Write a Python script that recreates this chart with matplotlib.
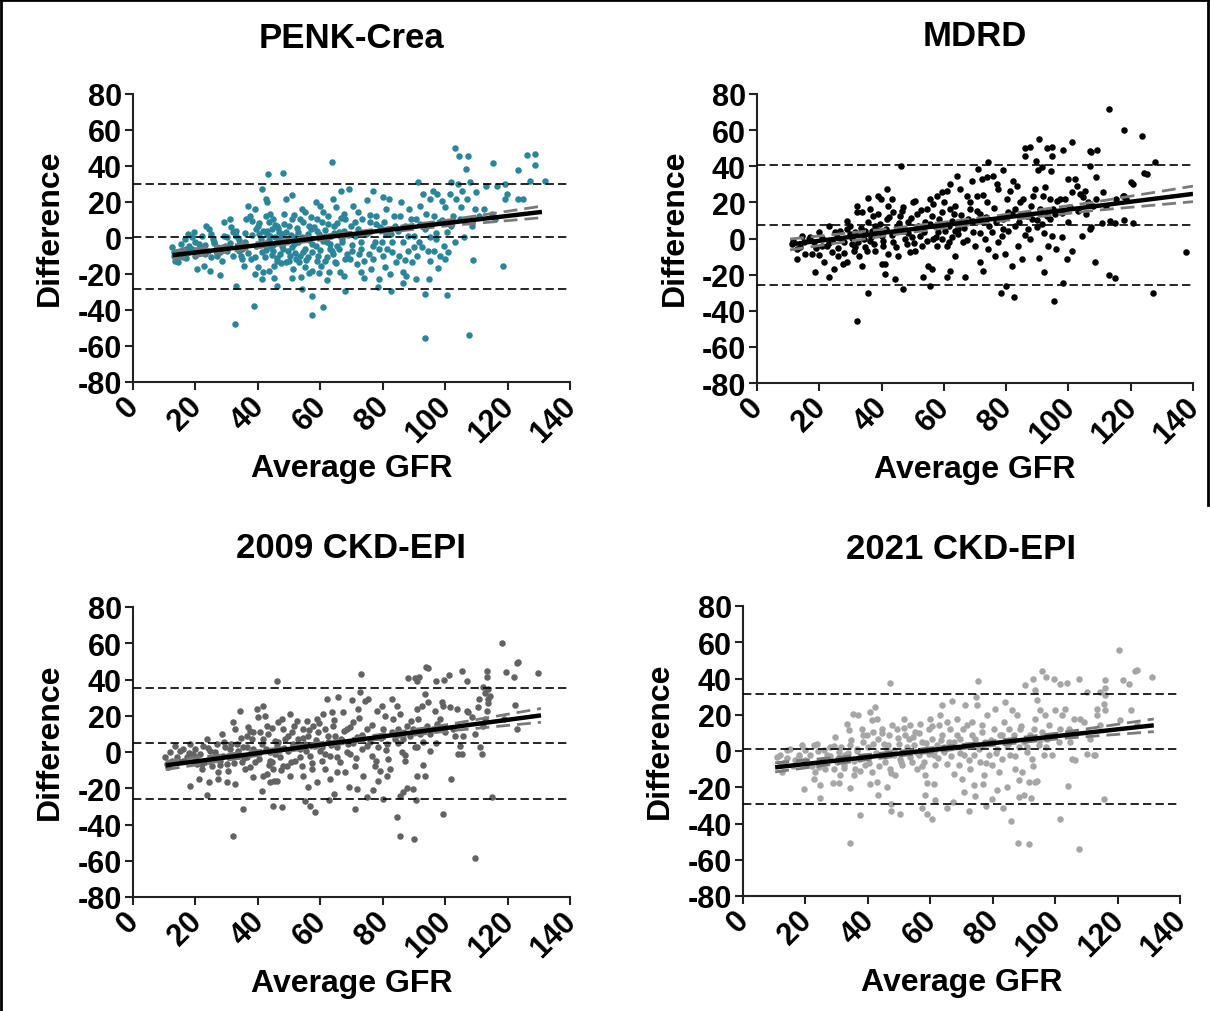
import matplotlib
matplotlib.use('Agg')
import matplotlib.pyplot as plt
from matplotlib.lines import Line2D
from matplotlib.transforms import ScaledTranslation

plt.rcParams['font.family'] = ['Liberation Sans', 'DejaVu Sans']
plt.rcParams['font.weight'] = 'bold'
plt.rcParams['axes.unicode_minus'] = False

# ---- data (Average GFR, Difference) ----
titles = ['PENK-Crea', 'MDRD', '2009 CKD-EPI', '2021 CKD-EPI']
colors = ['#2a869c', '#000000', '#636363', '#a6a6a6']

penk_pts = [
    (12.5, -5.1), (13, -9.8), (13.5, -12.5), (14, -7.9), (14.5, -13.5), (15, -7.0), (15.5, -3.3), (16, -10.5),
    (16.5, -0.5), (17, -6.0), (17.5, 2.2), (18, -4.3), (19, 0.4), (19.4, 3.2), (20, -2.4), (20.5, -17.2),
    (21, -7.1), (21.5, -5.2), (22, 1.3), (22.6, -15.3), (23, -8.9), (23.5, 6.8), (24.3, 5.0), (24.8, -18.6),
    (25, 2.2), (25.5, -0.6), (26, -2.8), (26.5, -6.1), (27, -9.8), (28, -20.5), (28.5, -12.6), (29, 8.7),
    (29.5, -4.3), (30, 0.4), (31, 10.5), (31.5, 5.9), (32, 3.1), (32.6, -47.7), (33, 1.3), (33.1, -26.4),
    (33.5, -4.3), (34, -7.1), (34.5, -9.8), (35, -11.7), (35.5, -15.4), (36, -2.4), (36.3, 10.5),
    (37, 17.6), (38.7, -37.9), (39, 16.1), (37.5, 12.4), (38, 9.6), (40, 6.8), (40.5, 2.2), (41, -0.6),
    (39.5, -4.3), (41.4, -8.0), (37.8, -11.7), (40.2, -16.3), (41.4, -22.8), (41.4, 27.2), (39, -20.0),
    (41.8, -19.1), (43.3, 35.6), (42.5, 21.7), (43, 19.8), (44, 13.3), (45, 10.5), (43.5, 8.7), (46, 6.8),
    (44.5, 5.0), (42.8, 2.2), (45.5, 0.4), (46.5, -2.4), (43.8, -5.2), (44.8, -7.1), (47, -8.9),
    (42.3, -10.8), (46.2, -12.6), (45.1, -15.4), (43.6, -18.2), (45.1, -22.2), (46.2, -26.4), (44, -3.3),
    (46.8, 3.1), (42.6, 12.4), (48, 35.9), (50.8, 23.9), (49, 21.7), (48.5, 13.3), (51, 10.5), (50, 6.8),
    (47.8, 2.2), (52, 0.4), (49.5, -1.5), (51.5, -3.3), (48.2, -6.1), (50.3, -9.8), (52.2, -11.7),
    (49, -13.5), (51.2, -17.2), (50.8, -22.1), (47.6, -4.3), (54, 16.1), (55, 14.2), (53.5, 10.5),
    (56.5, 6.8), (57, 5.0), (53, 3.1), (55.5, 0.4), (57.5, -3.3), (54.5, -8.0), (56, -10.8), (53.3, -13.5),
    (55, -16.3), (57.2, -18.2), (56.5, -19.5), (53.7, -21.8), (54.3, -28.6), (57.5, -32), (57.5, -42.9),
    (58.5, 19.8), (60, 17.9), (61, 14.2), (59, 10.5), (62.5, 7.8), (58.8, 4.1), (60.5, 0.4), (62, -2.4),
    (63, -6.1), (59.3, -9.8), (61.5, -12.6), (60.2, -15.4), (62.8, -19.1), (59.6, -19.4), (61, -38.6),
    (63.9, 42.0), (62, -23.6), (66.5, 26.3), (64, 21.7), (65, 17.0), (67.5, 13.3), (68, 10.5), (64.5, 6.8),
    (66, 3.1), (67, -0.6), (65.5, -4.3), (63.8, -7.1), (68.5, -8.9), (64.8, -13.5), (66.3, -19.1),
    (67.5, -20.9), (67.9, -29.5), (69.2, 27.2), (70.5, 17.6), (72, 14.2), (73.5, 10.5), (69.8, 6.8),
    (71, 1.3), (73, -2.4), (70, -7.1), (72.5, -8.9), (69.5, -11.7), (71.8, -14.5), (73.2, -19.1),
    (74.1, -22.0), (76.8, 26.3), (75, 21.1), (78, 12.4), (76, 8.7), (79, 5.9), (74.8, 2.2), (77.5, -2.4),
    (78.8, -6.1), (75.5, -8.9), (77, -11.7), (76.2, -17.2), (78.9, -22.7), (78.4, -27.3), (80, 22.6),
    (82, 21.7), (81, 16.1), (83.5, 12.4), (80.5, 8.7), (84, 6.8), (82.5, 2.2), (79.8, -2.4), (81.5, -6.1),
    (83, -8.0), (84.3, -13.5), (80.8, -16.3), (82.2, -20.0), (82.7, -29.7), (86, 19.8), (88.5, 16.1),
    (85.5, 12.4), (89, 10.5), (87, 6.8), (90, 1.3), (86.5, -2.4), (88, -7.1), (85.2, -9.8), (89.5, -13.5),
    (86.4, -19.1), (87.5, -20.9), (86.4, -25.0), (90.7, -22.7), (91.3, 31.3), (93, 24.4), (95, 21.7),
    (92, 17.9), (94, 13.3), (90.8, 10.5), (93.5, 5.0), (95.2, 0.4), (91.5, -2.4), (92.5, -5.2),
    (94.5, -7.1), (91, -9.8), (93.4, -31), (93.7, -55.4), (94.8, -22.8), (96, 26.3), (97.5, 24.4),
    (99, 20.7), (100, 17.0), (96.5, 12.4), (98, 8.7), (100.5, 3.1), (97, -0.6), (99.5, -4.3), (96.3, -7.1),
    (98.5, -9.8), (100, -11.7), (97.8, -16.9), (100.7, -31.4), (103, 49.8), (104.4, 45.7), (102, 31.3),
    (104, 29.8), (105.5, 26.3), (101.5, 24.4), (103.5, 21.7), (105, 17.0), (102.5, 12.4), (104.8, 10.5),
    (101.8, 6.8), (106, 0.4), (103, -2.4), (107.4, 45.7), (106.8, 38.4), (108, 31.0), (110, 25.3),
    (107, 21.7), (109.5, 16.1), (111, 12.4), (108.5, 6.8), (109, -12.2), (107.6, -53.8), (115.2, 41.9),
    (113, 29.1), (112.5, 16.1), (115, 13.3), (116, 10.5), (116.7, 29.1), (119.2, 29.8), (119.7, 24.5),
    (119.2, 21.7), (123.5, 21.7), (125.1, 21.7), (118.6, -15.3), (123.2, 37.8), (126.1, 46.1),
    (128.8, 46.7), (128.8, 40.8), (127.2, 31.5), (132, 31.9),
    # dense core
    (40.5, 8.5), (41.5, 4.0), (42, -3.5), (42.5, -6.5), (43, 3.8), (43.5, -1.0), (44, 0.9), (44.5, -9.5),
    (45, -4.0), (45.5, 7.5), (46, -11), (46.5, 5.5), (47, 0.0), (47.5, -14), (48, -2.5), (48.5, 8),
    (49, 3.5), (49.5, -7), (50, -12.5), (50.5, 1.5), (51, -5), (51.5, 13), (52, -8.5), (52.5, 5.5),
    (53, -2), (53.5, -10), (54, 0.5), (54.5, 9), (55, -6), (55.5, -12), (56, 2.5), (56.5, -1), (57, 11.5),
    (57.5, -8), (58, 6), (58.5, -4.5), (59, -13), (59.5, 2), (60, -6.5), (60.5, 9), (61, -1.5), (61.5, 4.5),
    (62, -10.5), (62.5, 12), (63, -3.5), (63.5, 1), (64, -9), (64.5, 3), (65, -14), (65.5, 8.5), (66, -6),
    (66.5, 11), (67, -2), (67.5, 4), (68, -11.5), (69, 1.5), (70, -3.8), (71, 9), (72, 5), (73, -6),
    (74, -13), (75, 3), (76, 13), (77, -4.5), (78, 8), (80, -10), (81, 2), (83, -2), (85, 4), (87, -12),
    (88, 1), (90, -5), (92, 8), (95, -13), (97, 3), (99, 10), (101, -8),
    (13, -8), (14, -11), (15, -9.5), (16, -6.5), (17, -11), (18, -8), (19, -6), (20, -10), (21, -3.5),
    (22, -6), (23, -4), (24, -7), (25, -10.5), (26, -2), (27, -5), (28, -8), (29, 1), (30, -7), (31, -2.5),
    (32, -10), (33, 4), (34, -1), (35, -6), (36, 3), (37, -8.5), (38, 1.5), (39, -10.5), (39.5, 5),
]

mdrd_pts = [
    (113.1, 71.7), (117.8, 60.2), (123.7, 56.6), (127.7, 42.2), (125.1, 35.7), (120.2, 31.1), (137.7, -7.6),
    (127.2, -30.3), (95.3, -34.8), (32.1, -45.8), (35.5, -30.3), (82.6, -32.6), (78.2, -30.3), (80, -26.5),
    (98.3, -24.8), (113, -20), (115, -22), (108.5, -12.8), (99.4, -11.3), (101.3, -7.1), (92.1, -18.4),
    (90.6, -10.6), (86.0, 49.9), (87.6, 50.5), (90.5, 55.1), (93, 49.9), (94.6, 50.5), (94.6, 45.5),
    (98.3, 49.2), (101.3, 53.2), (106.9, 48.6), (109.3, 49.2), (107.4, 48.1), (86.0, 45.9), (89.6, 43.1),
    (90.3, 38.1), (91.6, 39.4), (94.4, 37.6), (74.1, 42.2), (46.3, 40.3), (106.9, 40.3), (109, 34.2),
    (124.2, 36.3), (120.6, 30.2), (117.8, 23.7), (110.8, 8.4), (113.3, 9.5), (115.1, 8.4), (117.9, 10.2),
    (120.8, 8.4), (11.2, -3.0), (12.8, -11.3), (14.4, 1.6), (15.5, -8.6), (17.6, -8.6), (18.7, -18.7),
    (16.6, -0.3), (19.8, 3.4), (20.8, -4.0), (11.7, -1.2), (13.9, -4.9), (18.2, -2.1), (21.4, -12.8),
    (23, -21.5), (23, 7.1), (24.0, -7.6), (24.6, -16.9), (25.9, -9.5), (26.7, 4.3), (27.6, -14.1),
    (28.9, -13.2), (28.9, 9.9), (29.9, 2.5), (30.5, -3.0), (31.5, -4.9), (31.2, -6.7), (24.0, -1.2),
    (25.6, 0.7), (27.8, -2.1), (29.9, 7.1), (22.4, -4.0), (32.1, 18.2), (32.1, 14.5), (35.8, 22.2),
    (33.7, 14.9), (34.7, 4.3), (34.7, -4.9), (32.6, -9.5), (33.7, -15.0), (36.3, 16.3), (37.4, 12.7),
    (37.9, 7.1), (39, 23.7), (39.8, 21.9), (40.1, 1.6), (40.6, -4.0), (41.1, -14.1), (40.1, -14.1),
    (41.1, -19.6), (41.7, 27.4), (39, 13.6), (36.3, -1.2), (37.9, -6.7), (42.2, 18.2), (41.7, 10.8),
    (42.2, -8.6), (35.3, -6.7), (36.9, 4.3), (43.3, 21.9), (43.8, 14.5), (43.8, -2.1), (44.4, -22.4),
    (47.0, -28), (45.4, -9.5), (45.9, 12.7), (47, 17.2), (47.6, 4.3), (48.1, -3.0), (49.2, -7.6),
    (50.2, 20.0), (50.8, 20.9), (51.3, 13.6), (51.8, 7.1), (52.4, 1.6), (52.9, -4.0), (53.2, -21.5),
    (46.5, 4.3), (44.9, 7.1), (48.6, 9.0), (49.7, 0.7), (50.8, -6.7), (55.0, -15.0), (55.6, -26.1),
    (56.1, -16.9), (55.6, 21.9), (57.7, 23.7), (59.3, 25.6), (60.9, 26.5), (62, 30.2), (64.1, 34.4),
    (54.5, 16.3), (56.1, 12.7), (57.2, 7.1), (58.2, 3.4), (59.3, -0.3), (60.9, -4.0), (62, 16.3),
    (63.1, 13.6), (57.7, -4.0), (59.9, 20.0), (61.5, 7.1), (62.5, 0.7), (63.6, -9.5), (60.9, -21.5),
    (62, -17.8), (63.6, 4.3), (56.6, -0.3), (54, 9.0), (65.2, 27.4), (66.8, -21.5), (66.3, -2.1),
    (67.3, 23.7), (68.4, 16.3), (69, 32.0), (69.5, 3.4), (70, -4.0), (71.1, 38.5), (71.6, 13.6),
    (72.1, 32.9), (72.7, 9.0), (73.2, -0.3), (73.7, 33.9), (73.7, 20.0), (74.3, -5.8), (71.6, -13.2),
    (72.7, -17.8), (67.9, 10.8), (70.5, 23.7), (64.7, 5.3), (75.9, 34.8), (77, 30.2), (77.5, 27.4),
    (78.6, 1.6), (79.1, 38.1), (79.6, -8.6), (80.2, 21.9), (81.2, 26.5), (81.8, -15.0), (82.3, 32.0),
    (82.8, 16.3), (83.4, 29.3), (83.9, -4.0), (84.4, 20.0), (85, -11.3), (76.9, 9.0), (79.1, 5.3),
    (80.7, 14.5), (75.4, 3.4), (76.4, -9.5), (85.5, 21.9), (82.8, 7.1), (86.6, 12.7), (87.1, 5.3),
    (87.6, -0.3), (88.7, 23.7), (89.2, 27.4), (89.8, 6.2), (90.9, 16.3), (91.9, 23.7), (92.5, 28.3),
    (93, 12.7), (93.5, -4.0), (94.1, 21.9), (94.6, 1.6), (95.1, 16.3), (95.7, 13.6), (88.2, 10.8),
    (91.4, 8.1), (96.2, 21.0), (97.3, 21.9), (97.8, 0.7), (98.9, 21.9), (100, 32.9), (100.5, 17.2),
    (101, 25.6), (102.1, 32.9), (102.6, 29.3), (103.7, 24.6), (104.2, 1.6), (104.7, 22.8), (105.3, 26.5),
    (105.8, 13.6), (106.9, 5.3), (107.1, 6.2), (106.3, 20.0), (108, 18.2), (109, 21.9), (111.2, 25.6),
    (112.2, 18.2), (115.4, 21.9), (117.6, 23.7), (118.6, 21.9),
    # dense core
    (30.5, 0.5), (31.5, 3.5), (32.5, -2), (33.5, 6), (34.5, -0.5), (35.5, 9), (36.5, 1), (37.5, -3),
    (38.5, 4.5), (39.5, 8), (40.5, -1.5), (41.5, 5.5), (42.5, 12), (43.5, 2), (44.5, -4.5), (45.5, 8.5),
    (46.5, 15), (47.5, -0.5), (48.5, 3), (49.5, 11.5), (50.5, -2.5), (51.5, 6.5), (52.5, 16), (53.5, 3.5),
    (54.5, -1.5), (55.5, 8), (56.5, 19), (57.5, 1), (58.5, 11), (59.5, 14.5), (60.5, 4), (61.5, -2),
    (62.5, 9.5), (63.5, 18), (64.5, 2.5), (65.5, 13), (66.5, 6), (67.5, -1), (68.5, 20), (69.5, 9.5),
    (70.5, 15), (71.5, 3), (72.5, 24), (73.5, 12), (74.5, 7), (76, 17), (77.5, -2), (79, 11), (80.5, 4),
    (82, 13.5), (84, 9), (86, 2), (88, 18), (90, 10), (92, 3), (94, 11), (96, -6), (98, 14), (100, 9),
    (103, 15), (13, -6), (15, -2), (17, 1), (19, -5.5), (21, 0.5), (23, -2.5), (25, 3.5), (26, -5),
    (27, 0), (28, -8), (29, 5), (20, -9),
]

ckd09_pts = [
    (118.3, 60.1), (122.9, 48.9), (123.5, 49.5), (119.5, 44), (121.9, 41.2), (129.9, 43.4), (94.4, 46.4),
    (93.8, 46.7), (105.3, 44.5), (113.3, 44.5), (106.9, 39), (99.6, 39.7), (97.1, 39), (101.3, 42.5),
    (88.2, 40.6), (90.4, 40.6), (91.1, 39), (91.7, 41.2), (73.1, 43.0), (46.0, 39), (112.2, 35.7),
    (113.8, 34.8), (113.3, 41.2), (122.4, 25.9), (113.8, 27.0), (110.9, 29.2), (112.8, 32.5),
    (31.9, -46.5), (85.5, -46.5), (89.9, -48.0), (109.6, -58.7), (99.4, -34.2), (84.5, -36), (35.4, -31.4),
    (58.3, -33.3), (71.1, -31.4), (114.9, -24.6), (44.8, -29.6), (47.6, -30.5), (56.7, -29.6),
    (55.1, -26.8), (62.9, -26.3), (64.4, -23.2), (74.9, -25.0), (80.2, -25.9), (85.5, -24.1),
    (86.6, -22.2), (87.7, -20.0), (89.8, -20.4), (90.6, -26.5), (23.6, -23.5), (18.3, -18.9),
    (32.7, -17.8), (30, -16.7), (27.3, -14.9), (24.4, -16.7), (21.3, -15.1), (41.2, -21.3), (43.9, -16.7),
    (45.2, -15.8), (50.3, -13.0), (56.2, -19.5), (69.1, -19.1), (71.7, -20.4), (77, -20.8), (78.6, -16.2),
    (81.5, -13.0), (90.9, -13.0), (93.6, -13.5), (101.9, -14.9), (111.9, -1.1),
    (10.2, -3.0), (10.8, -6.6), (11.9, -0.2), (12.4, -4.8), (13.5, 3.5), (15.1, 0.7), (16.1, 1.6),
    (17.2, -3.0), (18.3, 4.4), (19.3, -1.1), (20.4, -6.6), (19.9, 1.6), (11.3, -8.5), (14.5, -4.8),
    (21.5, -1.1), (22.5, 3.5), (23.6, 7.2), (24.1, -4.8), (24.7, 0.7), (25.2, -7.5), (26.3, -0.2),
    (26.8, 4.4), (27.9, -4.8), (28.4, 9.9), (28.9, -2.0), (29.5, 2.6), (30, -6.6), (30.5, -10.3),
    (31.1, 1.6), (22, -9.4), (27.3, -11.2), (23.1, -5.7), (32.1, 16.4), (32.7, 12.7), (33.2, 4.4),
    (33.7, -2.0), (34.3, 22.8), (34.8, -5.7), (35.3, 2.6), (35.9, -9.4), (36.4, -3.0), (36.9, 13.6),
    (37.5, 11.8), (38, 7.2), (38.5, 1.6), (39.1, -5.7), (39.6, 23.7), (40.2, 19.1), (40.7, 10.9),
    (41.2, 4.4), (41.5, -13.0), (41.8, 25.6), (38.5, -14.0), (36.4, 9.0), (42.3, 20.1), (42.8, 14.5),
    (43.4, 9.9), (43.9, -0.2), (44.4, -5.7), (44.9, -9.4), (45.5, 6.3), (46, 3.5), (46.6, 16.4),
    (47.1, -3.0), (47.6, 18.2), (48.2, 12.7), (48.7, 7.2), (49.2, -7.5), (49.8, 0.7), (50.3, 21.0),
    (50.8, 10.9), (51.4, 4.4), (51.9, -4.8), (52.4, 17.3), (42.8, -12.1), (46, -15.8), (47.9, -7.5),
    (43.9, -4.8), (53, 7.2), (53.5, 1.6), (54.0, -7.5), (54.6, 12.7), (55.1, 4.4), (55.6, 17.3), (56.2, 9.0),
    (56.7, -2.0), (57.2, -9.4), (57.8, 14.5), (58.3, 3.5), (58.8, 18.2), (59.4, 10.9), (59.9, 0.7),
    (60.4, -4.8), (61, 21.0), (61.5, 12.7), (62.1, 29.2), (62.6, 5.3), (63.1, -2.0), (54.6, -13.0),
    (58.8, -16.7), (61.5, -9.4), (63.7, 21.9), (64.2, 14.5), (64.7, 9.0), (65.3, 2.6), (65.8, 30.2),
    (66.3, -5.7), (67.4, 21.9), (67.9, -11.2), (68.5, 12.7), (69, 4.4), (69.5, -1.1), (70.1, 28.9),
    (70.6, 16.4), (71.1, -7.5), (71.7, 8.1), (72.2, 23.7), (72.7, 32.9), (73.3, 1.6), (73.8, -13.0),
    (63.1, -14.9), (65.3, -11.2), (74.3, 28.3), (74.9, 12.7), (75.4, 29.2), (75.9, 5.3), (76.5, -2.0),
    (77.5, -7.5), (78.1, 22.8), (78.6, 2.6), (79.1, -10.3), (79.7, 25.6), (80.2, 12.7), (80.7, 20.1),
    (81.3, 4.4), (81.8, -3.9), (82.3, -9.4), (82.9, 29.2), (83.4, 18.2), (83.9, 7.2), (84.5, 25.6),
    (85, 12.7), (85.5, 21.0), (86.1, -0.2), (86.6, 7.2), (87.1, -4.8), (87.7, 14.5), (88.7, 9.0),
    (89.8, 12.7), (90.4, 2.6), (90.9, 23.7), (91.4, 18.2), (92, 9.9), (92.5, 25.6), (93, 5.3), (93.6, 32),
    (94.1, 14.5), (94.6, 27.4), (95.2, 0.7), (96.2, 12.7), (96.8, 22.8), (97.3, 15.4), (98.4, 18.2),
    (98.9, 27.4), (99.4, 25.6), (99.9, 10.9), (101.6, 24.6), (102.6, 12.7), (103.2, 9.0), (103.7, 23.7),
    (104.2, -1.1), (104.8, 3.5), (105.3, -1.1), (105.8, 9.0), (106.9, 22.8), (107.4, 21.9), (108.5, 19.1),
    (109.6, 9.9), (110.6, 24.6), (111.2, 2.6), (112.2, 14.5), (112.8, 18.2), (113.3, 22.8), (113.8, 29.2),
    (114.4, 31.1), (118.7, 18.2), (122.9, 12.7),
    # dense core
    (30.5, -2), (31.5, 4.5), (32.5, -6), (33.5, 0.5), (34.5, 8), (35.5, -3.5), (36.5, 3), (37.5, -8),
    (38.5, 11), (39.5, 0), (40.5, -4), (41.5, 7), (42.5, 1.5), (43.5, -7), (44.5, 13), (45.5, -1),
    (46.5, 5.5), (47.5, -10), (48.5, 2), (49.5, 9), (50.5, -5.5), (51.5, 14.5), (52.5, 3), (53.5, -2.5),
    (54.5, 8), (55.5, 0.5), (56.5, 12), (57.5, -6), (58.5, 6.5), (59.5, 16), (60.5, 2.5), (61.5, -1),
    (62.5, 9), (63.5, 4), (64.5, 17.5), (65.5, -3), (66.5, 7), (67.5, 11.5), (68.5, 0), (69.5, 14),
    (70.5, 5), (71.5, -3.5), (72.5, 19), (73.5, 9.5), (75, 3.5), (76.5, 15), (78, -5), (79.5, 8), (81, 1),
    (83, 11), (85, 5), (87, -1.5), (89, 17), (91, 3), (93, -7), (95, 10), (97, 5), (12, -6), (14, -2.5),
    (16, -5), (18, -0.5), (20, -3), (22, -6.5), (24, 2), (26, -3.5), (28, -7), (29, 5.5),
]

ckd21_pts = [
    (120.4, 55.9), (125.7, 43.9), (126.2, 44.9), (131, 40.8), (121.7, 39.0), (123.8, 36.8), (95.8, 43.9),
    (97.1, 40.8), (92.9, 39.9), (90.4, 36.6), (99.5, 39.5), (101.7, 37.1), (103.8, 37.7), (107.5, 39.5),
    (110.2, 32.5), (115.9, 39.0), (115.9, 34.7), (114.3, 32.5), (93.5, 33.8), (75.2, 38.4), (47.2, 37.5),
    (74.7, 29.8), (67.0, 27.4), (63.7, 25.5), (124.3, 22.4), (116.1, 22.4), (113.4, 23.3),
    (34.2, -50.6), (88.0, -50.6), (91.7, -51.5), (107.5, -54.3), (101.4, -37.7), (86, -38.6), (37.6, -35.1),
    (60.5, -37.7), (72.3, -33.3), (115.5, -26.3), (104.1, -19.3), (47.4, -33.3), (50.2, -34.6),
    (57.3, -31.3), (58.9, -34.6), (61.4, -27.2), (65.3, -31.5), (67.2, -28.1), (74.2, -24.8), (77.8, -30.4),
    (79.8, -26.7), (83.3, -31.5), (88.3, -25.4), (89.9, -24.1), (92.4, -25.9), (47.4, -29.1), (24.8, -25.8),
    (19.4, -21.2), (22.6, -15.3), (24.8, -18.9), (28.7, -17.5), (30.8, -17.5), (34.4, -20.4),
    (35.7, -13.4), (40.8, -18.0), (42.9, -17.1), (46.1, -19.9), (43.4, -24.5), (58.4, -24.1), (61.1, -18.0),
    (58.9, -17.5), (70.9, -22.6), (73.9, -18.9), (76.9, -18), (81.4, -21.7), (84.6, -19.9), (88.3, -16.2),
    (93.6, -17.1), (94.2, -16.7),
    (10.9, -3.3), (12, -2.0), (12.5, -11.6), (13.5, -6.1), (14.1, 0.4), (15.1, 1.3), (16.8, -5.2),
    (17.8, -3.3), (18.9, 3.1), (20, 0.4), (20.5, -7.9), (21.6, -2.4), (22.6, 3.1), (23.7, 4.0), (24.2, -8.8),
    (25.3, -5.2), (25.8, 0.4), (26.9, -2.4), (28, 2.2), (29.0, -9.8), (29.6, 7.7), (30.1, -6.1), (30.6, -0.6),
    (31.2, -13.4), (26.4, -9.8), (23.2, -11.6), (32.2, -7.9), (32.8, -2.4), (33.3, 15.1), (33.8, 11.4),
    (34.4, 3.1), (35.4, 20.6), (36, -9.8), (36.5, 1.3), (37, 19.7), (37.6, -4.2), (38.1, 12.3), (38.6, 5.0),
    (39.2, -7.9), (39.7, 8.6), (40.2, 2.2), (40.8, 21.5), (41.3, 16.9), (41.8, 10.5), (41.3, -11.6),
    (42.4, 24.3), (42.9, 17.8), (43.4, 6.8), (44, -2.4), (44.5, 12.3), (45.1, 4.0), (45.6, -6.1),
    (46.1, 1.3), (46.7, 8.6), (47.2, -9.8), (47.7, 14.2), (48.3, -2.4), (48.8, -13.4), (49.3, 12.3),
    (49.9, 4.0), (50.4, -4.2), (50.9, -7.9), (51.5, 17.8), (52, 8.6), (52.5, -0.6), (53.1, 6.8), (53.6, 14.2),
    (54.1, -6.1), (54.7, 3.1), (55.2, 10.5), (55.7, -9.8), (56.3, -2.4), (56.8, 15.1), (57.3, 5.0),
    (57.9, -6.1), (58.4, -13.4), (58.9, 1.3), (59.5, 12.3), (60, 17.8), (60.5, 6.8), (61.1, -2.4),
    (61.6, -7.9), (62.1, 3.1), (62.7, 14.2), (63.2, 19.7), (63.7, 8.6), (64.3, -0.6), (65.3, -7.0),
    (65.9, 5.0), (66.4, 12.3), (67.5, -12.5), (68, 2.2), (68.5, 17.8), (69.1, -7.9), (69.6, 6.8),
    (70.1, -15.3), (70.7, -2.4), (71.8, 14.2), (72.3, 3.1), (72.8, -9.8), (73.4, 8.6), (73.9, -2.4),
    (71.2, 25.2), (74.4, 6.8), (75, 25.2), (75.5, 1.3), (76, -6.1), (76.6, 14.2), (77.1, -13.4), (77.6, 5.0),
    (78.2, 19.7), (78.7, -2.4), (79.8, -7.9), (80.3, 12.3), (80.8, 23.3), (81.4, 1.3), (81.9, -11.6),
    (82.4, 8.6), (83, -4.2), (83.5, 16.0), (84, 27.0), (84.6, 3.1), (85.1, 12.3), (85.6, -2.4), (86.2, 22.4),
    (86.7, 8.6), (87.2, -9.8), (87.8, 19.7), (88.3, 2.2), (88.8, 12.3), (89.4, -11.6), (89.9, 5.0),
    (91, -0.6), (91.5, -17.1), (92, 8.6), (92.6, -4.2), (93.1, 12.3), (93.6, 17.8), (94.2, 28.0), (94.7, 3.1),
    (95.2, 22.4), (95.8, 10.5), (96.3, -2.4), (96.9, 19.7), (97.4, 6.8), (97.9, 14.2), (99, -2.4), (99.5, 8.6),
    (100.1, 22.4), (101.1, 5.0), (101.7, 12.3), (102.2, 19.7), (103.3, 23.3), (104.3, 12.3), (104.9, 5.0),
    (105.4, -4.2), (105.9, 17.8), (106.5, -5.2), (108.1, 17.8), (109.1, 16.0), (110.2, -1.5), (111.3, 6.8),
    (112.3, -2.4), (112.9, -2.4), (113.4, 19.7), (114.5, 14.2), (115.5, 26.1), (116.1, 30.7), (120.9, 16.9),
    (126.2, 14.2),
    # dense core
    (30.5, -4), (31.5, 2), (32.5, -9.5), (33.5, -1), (34.5, 6), (35.5, -5.5), (36.5, 0), (37.5, -11),
    (38.5, 9), (39.5, -2.5), (40.5, -6.5), (41.5, 4), (42.5, -1), (43.5, -8.5), (44.5, 10), (45.5, -3),
    (46.5, 3.5), (47.5, -12), (48.5, 0.5), (49.5, 7), (50.5, -6), (51.5, 12.5), (52.5, 2), (53.5, -3.5),
    (54.5, 7.5), (55.5, -0.5), (56.5, 10), (57.5, -8), (58.5, 4.5), (59.5, -1.5), (60.5, 14), (61.5, 0.5),
    (62.5, -4), (63.5, 6), (64.5, 2), (65.5, 16), (66.5, -3), (67.5, 5), (68.5, 9), (69.5, -1), (70.5, 12),
    (71.5, 3.5), (72.5, -5), (73.5, 16), (75, 4), (76.5, 10.5), (78, -6.5), (79.5, 6), (81, -1), (83, 9),
    (85, 4), (87, -3), (89, 14), (91, 2), (93, -8), (95, 6), (97, 2), (12, -7), (14, -4), (16, -8.5),
    (18, -2), (20, -5), (22, -8), (24, 0), (26, -6.5), (28, -3), (29, 3),
]

# Bland-Altman lines: bias, upper and lower limits of agreement
bias = [0.6, 7.6, 4.8, 1.2]
loa_upper = [30.0, 40.7, 35.4, 31.5]
loa_lower = [-28.5, -25.6, -26.0, -29.2]

# regression of difference on average: intercept, slope, x range
reg_intercept = [-12.1, -5.6, -9.8, -11.0]
reg_slope = [0.203, 0.2164, 0.2296, 0.1913]
reg_xmin = [12.7, 10.6, 10.5, 10.3]
reg_xmax = [131.0, 140.0, 130.7, 131.6]
# 95% CI half width at 5 equally spaced positions along the fit
ci_half = [
    [2.4, 1.4, 1.1, 1.6, 3.2],
    [3.0, 1.8, 1.5, 2.3, 4.3],
    [2.3, 1.3, 1.1, 1.8, 3.8],
    [2.5, 1.4, 1.1, 1.6, 3.5],
]

all_pts = [penk_pts, mdrd_pts, ckd09_pts, ckd21_pts]

# axes boxes in figure pixels: left, right, top, bottom
W, H = 1210, 1012
boxes = [(133, 570, 95, 383), (757, 1193, 95, 384), (133, 570, 608, 898), (743, 1180, 607, 897)]
title_y = [38, 36, 548, 550]

fig = plt.figure(figsize=(W / 100, H / 100), dpi=100)
shift_left = ScaledTranslation(-9 / 100, 0, fig.dpi_scale_trans)

for i in range(4):
    l, r, t, b = boxes[i]
    ax = fig.add_axes([l / W, 1 - b / H, (r - l) / W, (b - t) / H])
    xs = [p[0] for p in all_pts[i]]
    ys = [p[1] for p in all_pts[i]]
    ax.scatter(xs, ys, s=22, color=colors[i], linewidths=0, zorder=2)

    for v in (loa_upper[i], bias[i], loa_lower[i]):
        ax.axhline(v, color='black', lw=1.2, ls=(0, (5, 2.5)), zorder=3)

    n = len(ci_half[i])
    fx = [reg_xmin[i] + k * (reg_xmax[i] - reg_xmin[i]) / (n - 1) for k in range(n)]
    fy = [reg_intercept[i] + reg_slope[i] * x for x in fx]
    ax.plot(fx, [y + h for y, h in zip(fy, ci_half[i])], color='#7a7a7a', lw=2.0,
            ls=(0, (5, 2.5)), zorder=4)
    ax.plot(fx, [y - h for y, h in zip(fy, ci_half[i])], color='#7a7a7a', lw=2.0,
            ls=(0, (5, 2.5)), zorder=4)
    ax.plot([fx[0], fx[-1]], [fy[0], fy[-1]], color='black', lw=3.2, zorder=5,
            solid_capstyle='butt')

    ax.set_xlim(0, 140)
    ax.set_ylim(-80, 80)
    ax.set_xticks(range(0, 141, 20))
    ax.set_yticks(range(-80, 81, 20))
    for s in ('top', 'right'):
        ax.spines[s].set_visible(False)
    for s in ('left', 'bottom'):
        ax.spines[s].set_linewidth(1.5)
        ax.spines[s].set_color('#222222')
    ax.tick_params(labelsize=22, width=1.5, length=6, color='#222222', pad=2)
    ax.tick_params(axis='x', pad=0.5)
    for lab in ax.get_xticklabels():
        lab.set_rotation(45)
        lab.set_ha('right')
        lab.set_va('top')
        lab.set_rotation_mode('anchor')
        lab.set_transform(lab.get_transform() + shift_left)
    ax.set_xlabel('Average GFR', fontsize=23, fontweight='bold')
    ax.set_ylabel('Difference', fontsize=23, fontweight='bold')
    ax.xaxis.set_label_coords(0.5, -0.245)
    ax.yaxis.set_label_coords(-0.155, 0.54)

    fig.text(((l + r) / 2) / W, 1 - title_y[i] / H, titles[i], fontsize=25,
             fontweight='bold', ha='center', va='center')

# frame around the picture
fig.add_artist(Line2D([0.001, 0.001], [0, 1], color='black', lw=2))
fig.add_artist(Line2D([0, 1], [0.999, 0.999], color='black', lw=2))
fig.add_artist(Line2D([0.998, 0.998], [0.5, 1], color='black', lw=2))

fig.savefig('out.png', dpi=100)
